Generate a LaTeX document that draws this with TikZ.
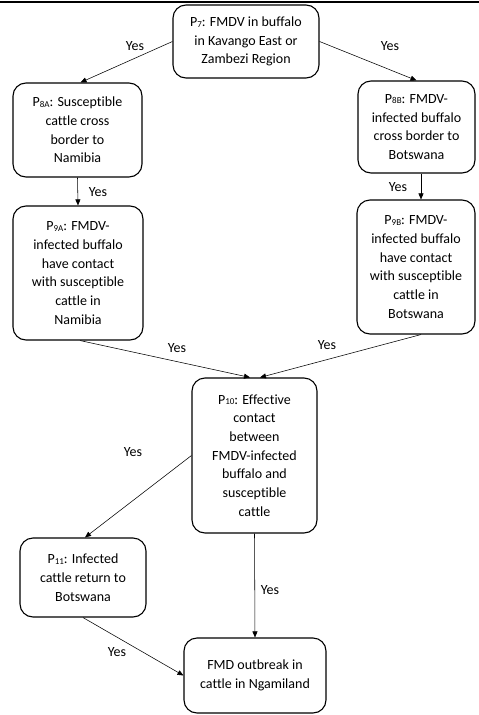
\documentclass[tikz,border=0pt]{standalone}
\usepackage{fontspec}
\setmainfont[Ligatures={NoCommon}]{Carlito}
\usetikzlibrary{arrows.meta}
\newcommand\psub[1]{\raisebox{-0.6pt}{\fontsize{9}{9}\selectfont #1}}
\tikzset{
  box/.style={draw, line width=1.1pt, rounded corners=13pt, align=center, inner sep=0pt,
    font=\fontsize{14}{18.7}\selectfont},
  conn/.style={line width=0.55pt, -{Triangle[length=6pt,width=5pt]}},
  lbl/.style={font=\fontsize{14}{16}\selectfont, inner sep=0pt}
}
\begin{document}
\begin{tikzpicture}[x=1pt,y=-1pt]
\useasboundingbox (0,0) rectangle (479,715);
\fill (0,1) rectangle (479,3.3);

\node[box, minimum width=146pt, minimum height=73pt] (p7) at (246,41.5)
  {P\psub{7}: FMDV in buffalo\\in Kavango East or\\Zambezi Region};
\node[box, minimum width=129pt, minimum height=94pt] (p8a) at (77.5,130)
  {P\psub{8A}: Susceptible\\cattle cross\\border to\\Namibia};
\node[box, minimum width=117pt, minimum height=92pt] (p8b) at (416.5,127)
  {P\psub{8B}: FMDV-\\infected buffalo\\cross border to\\Botswana};
\node[box, minimum width=130pt, minimum height=134pt] (p9a) at (78,273)
  {P\psub{9A}: FMDV-\\infected buffalo\\have contact\\with susceptible\\cattle in\\Namibia};
\node[box, minimum width=118pt, minimum height=134pt] (p9b) at (416,267)
  {P\psub{9B}: FMDV-\\infected buffalo\\have contact\\with susceptible\\cattle in\\Botswana};
\node[box, minimum width=125pt, minimum height=155pt] (p10) at (254.5,455.5)
  {P\psub{10}: Effective\\contact\\between\\FMDV-infected\\buffalo and\\susceptible\\cattle};
\node[box, minimum width=126pt, minimum height=79pt] (p11) at (83,577.5)
  {P\psub{11}: Infected\\cattle return to\\Botswana};
\node[box, minimum width=142pt, minimum height=75pt] (fmd) at (255,675.5)
  {FMD outbreak in\\cattle in Ngamiland};

\draw[conn] (p7.west) -- ([xshift=3pt]p8a.north);
\draw[conn] (p7.east) -- (p8b.north);
\draw[conn] (p8a.south) -- (p9a.north);
\draw[conn] ([xshift=4.5pt]p8b.south) -- ([xshift=5pt]p9b.north);
\draw[conn] ([xshift=2pt]p9a.south) -- ([xshift=-4.5pt]p10.north);
\draw[conn] ([xshift=5pt]p9b.south) -- ([xshift=5.5pt]p10.north);
\draw[conn] (p10.west) -- ([xshift=2pt]p11.north);
\draw[conn] (p10.south) -- (fmd.north);
\draw[conn] (p11.south) -- (fmd.west);

\node[lbl] (y1) at (135,46) {Yes};
\node[lbl] (y2) at (390,46) {Yes};
\node[lbl] (y3) at (98,192) {Yes};
\node[lbl] (y4) at (398,187) {Yes};
\node[lbl] (y5) at (177,348) {Yes};
\node[lbl] (y6) at (327,345) {Yes};
\node[lbl] (y7) at (133,452) {Yes};
\node[lbl] (y8) at (270,590) {Yes};
\node[lbl] (y9) at (117,652) {Yes};
\end{tikzpicture}
\end{document}
